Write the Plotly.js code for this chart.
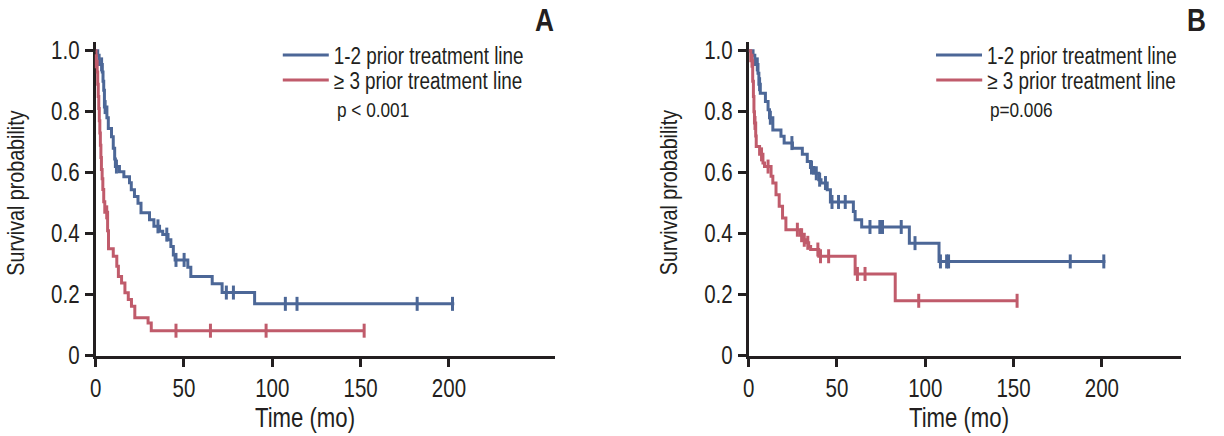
<!DOCTYPE html>
<html><head><meta charset="utf-8">
<script src="https://cdn.plot.ly/plotly-3.0.1.min.js"></script>
<style>
html,body{margin:0;padding:0;background:#fff}
#chart{width:1224px;height:436px}
</style>
</head><body><div id="chart"></div>
<script>
const FONT = '"Liberation Sans", Arial, sans-serif';
const NARROW = 0.82; // horizontal compression to mimic a narrow grotesque
const INK = '#231f20';
const BLUE = '#4c6797';
const RED = '#c05b6b';

const seriesNames = ['1-2 prior treatment line', '\u2265 3 prior treatment line'];
const xTickVals = [0, 50, 100, 150, 200];
const xTickText = ['0', '50', '100', '150', '200'];
const yTickVals = [0, 0.2, 0.4, 0.6, 0.8, 1.0];
const yTickText = ['0', '0.2', '0.4', '0.6', '0.8', '1.0'];
const xTitle = 'Time (mo)';
const yTitle = 'Survival probability';
const pTextA = 'p < 0.001';
const pTextB = 'p=0.006';

// Panel A, 1-2 prior lines
const timeA1 = [0, 1.2, 2.0, 3.8, 4.2, 4.6, 5.0, 6.4, 7.2, 9.0, 10.0, 10.8, 11.2, 13.5, 16.0, 19.2, 20.2, 22.0, 24.0, 25.7, 30.5, 33.0, 36.2, 38.0, 41.0, 42.6, 44.0, 45.0, 52.2, 53.9, 66.0, 71.6, 90.0];
const survA1 = [1.0, 0.985, 0.955, 0.93, 0.90, 0.87, 0.815, 0.78, 0.745, 0.718, 0.68, 0.645, 0.62, 0.603, 0.587, 0.567, 0.544, 0.522, 0.50, 0.469, 0.446, 0.424, 0.408, 0.397, 0.38, 0.358, 0.33, 0.314, 0.29, 0.26, 0.236, 0.207, 0.17];
const censA1 = [3.4, 5.4, 11.8, 35.3, 40.3, 45.5, 50.1, 74, 78, 107.4, 114, 182, 202];
const endA1 = 203;

// Panel A, >=3 prior lines
const timeA2 = [0, 0.2, 0.9, 1.2, 1.5, 1.8, 2.1, 2.4, 2.7, 3.0, 3.3, 3.7, 4.1, 4.6, 5.2, 6.8, 7.3, 10.0, 12.0, 12.9, 14.7, 16.6, 18.5, 20.3, 22.2, 29.7, 31.5];
const survA2 = [1.0, 0.965, 0.93, 0.89, 0.85, 0.81, 0.77, 0.73, 0.69, 0.65, 0.61, 0.58, 0.545, 0.505, 0.47, 0.41, 0.351, 0.326, 0.293, 0.26, 0.238, 0.206, 0.184, 0.162, 0.124, 0.107, 0.082];
const censA2 = [0.4, 6.3, 45.5, 65, 96.5, 152];
const endA2 = 152.5;

// Panel B, 1-2 prior lines
const timeB1 = [0, 2.5, 3.5, 5.3, 5.8, 6.6, 9.5, 11.0, 11.8, 13.7, 18.3, 20.1, 24.8, 30.4, 33.2, 35.0, 36.9, 39.7, 41.0, 44.5, 46.3, 59.3, 60.3, 64.0, 91.0, 107.8];
const survB1 = [1.0, 0.985, 0.955, 0.926, 0.89, 0.86, 0.833, 0.806, 0.78, 0.74, 0.719, 0.697, 0.68, 0.66, 0.637, 0.617, 0.598, 0.577, 0.566, 0.544, 0.504, 0.473, 0.446, 0.422, 0.369, 0.309];
const censB1 = [4.9, 6.2, 12.3, 24.5, 35.6, 38.3, 40.2, 43.5, 47.2, 50.9, 54.7, 68.7, 74.3, 75.8, 86.4, 94.2, 108.6, 112.1, 113.2, 182.1, 201.1];
const endB1 = 202;

// Panel B, >=3 prior lines
const timeB2 = [0, 1.2, 2.3, 2.7, 3.0, 3.3, 4.0, 4.3, 6.2, 8.1, 9.0, 12.7, 13.7, 15.5, 17.3, 19.2, 21.1, 29.1, 30.8, 32.5, 34.0, 35.1, 39.7, 60.3, 83.0];
const survB2 = [1.0, 0.967, 0.90, 0.85, 0.80, 0.763, 0.72, 0.686, 0.66, 0.632, 0.62, 0.588, 0.566, 0.528, 0.49, 0.451, 0.413, 0.395, 0.38, 0.37, 0.358, 0.348, 0.326, 0.268, 0.18];
const censB2 = [1.9, 3.6, 7.3, 11.0, 27.6, 30.0, 31.5, 33.5, 39.2, 40.7, 45.3, 61.6, 65.9, 96.3, 152];
const endB2 = 152.5;

function stepAt(times, surv, t) {
  let s = surv[0];
  for (let i = 0; i < times.length; i++) { if (times[i] <= t) s = surv[i]; }
  return s;
}
function curveTrace(times, surv, end, color, name, xa, ya, legend) {
  return {
    type: 'scatter', mode: 'lines', name: name,
    x: times.concat([end]), y: surv.concat([surv[surv.length - 1]]),
    line: {shape: 'hv', color: color, width: 3},
    xaxis: xa, yaxis: ya, legend: legend, hoverinfo: 'skip'
  };
}
function censTrace(times, surv, cens, color, xa, ya) {
  return {
    type: 'scatter', mode: 'markers', showlegend: false,
    x: cens, y: cens.map(t => stepAt(times, surv, t)),
    marker: {symbol: 'line-ns', size: 10, color: color, line: {color: color, width: 3}},
    cliponaxis: false, xaxis: xa, yaxis: ya, hoverinfo: 'skip'
  };
}

const traces = [
  curveTrace(timeA1, survA1, endA1, BLUE, seriesNames[0], 'x', 'y', 'legend'),
  curveTrace(timeA2, survA2, endA2, RED, seriesNames[1], 'x', 'y', 'legend2'),
  curveTrace(timeB1, survB1, endB1, BLUE, seriesNames[0], 'x2', 'y2', 'legend3'),
  curveTrace(timeB2, survB2, endB2, RED, seriesNames[1], 'x2', 'y2', 'legend4'),
  censTrace(timeA1, survA1, censA1, BLUE, 'x', 'y'),
  censTrace(timeA2, survA2, censA2, RED, 'x', 'y'),
  censTrace(timeB1, survB1, censB1, BLUE, 'x2', 'y2'),
  censTrace(timeB2, survB2, censB2, RED, 'x2', 'y2')
];

const W = 1224, H = 436;
const px = v => v / W;
const py = v => 1 - v / H;

function xAxis(domain, range, anchor) {
  return {
    domain: domain, range: range, anchor: anchor,
    tickmode: 'array', tickvals: xTickVals, ticktext: xTickText,
    ticks: 'outside', ticklen: 8, tickwidth: 3, tickcolor: INK,
    showline: true, linewidth: 3, linecolor: INK, layer: 'below traces',
    showgrid: false, zeroline: false, fixedrange: true,
    tickfont: {family: FONT, size: 25, color: INK}
  };
}
function yAxis(anchor) {
  return {
    domain: [py(355.7), py(41.5)], range: [0, 1.03], anchor: anchor,
    tickmode: 'array', tickvals: yTickVals, ticktext: yTickText,
    ticks: 'outside', ticklen: 8, tickwidth: 3, tickcolor: INK,
    showline: true, linewidth: 3, linecolor: INK, layer: 'below traces',
    showgrid: false, zeroline: false, fixedrange: true,
    tickfont: {family: FONT, size: 25, color: INK}
  };
}
function legendAt(x, y) {
  return {
    x: px(x), y: py(y), xanchor: 'left', yanchor: 'middle',
    bgcolor: 'rgba(0,0,0,0)', borderwidth: 0, itemwidth: 46,
    font: {family: FONT, size: 23, color: INK}, itemclick: false, itemdoubleclick: false
  };
}
function ann(text, x, y, opts) {
  return Object.assign({
    text: text, x: px(x), y: py(y), xref: 'paper', yref: 'paper',
    showarrow: false, xanchor: 'center', yanchor: 'middle',
    font: {family: FONT, size: 24, color: INK}
  }, opts || {});
}

const layout = {
  width: W, height: H,
  margin: {l: 0, r: 0, t: 0, b: 0},
  paper_bgcolor: '#ffffff', plot_bgcolor: 'rgba(0,0,0,0)',
  font: {family: FONT, color: INK, size: 24},
  showlegend: true,
  xaxis: xAxis([px(96.7), px(561.4)], [0, 260], 'y'),
  yaxis: yAxis('x'),
  xaxis2: xAxis([px(757.3), px(1195)], [0, 245], 'y2'),
  yaxis2: yAxis('x2'),
  legend: legendAt(281, 55),
  legend2: legendAt(281, 80),
  legend3: legendAt(942, 55),
  legend4: legendAt(942, 80),
  annotations: [
    ann(yTitle, 16, 193, {textangle: -90}),
    ann(yTitle, 677, 193, {textangle: -90}),
    ann(xTitle, 309, 418, {font: {family: FONT, size: 27, color: INK}}),
    ann(xTitle, 970, 418, {font: {family: FONT, size: 27, color: INK}}),
    ann(pTextA, 331, 110, {xanchor: 'left', font: {family: FONT, size: 21, color: INK}}),
    ann(pTextB, 992, 110, {xanchor: 'left', font: {family: FONT, size: 21, color: INK}}),
    ann('<b>A</b>', 551, 20, {font: {family: FONT, size: 32, color: INK}}),
    ann('<b>B</b>', 1210, 20, {font: {family: FONT, size: 32, color: INK}})
  ]
};

Plotly.newPlot('chart', traces, layout, {displayModeBar: false, staticPlot: true}).then(function (gd) {
  gd.querySelectorAll('svg text').forEach(function (t) {
    if (!t.textContent.trim()) return;
    const w = t.getComputedTextLength();
    if (w > 0) {
      t.setAttribute('textLength', (w * NARROW).toFixed(2));
      t.setAttribute('lengthAdjust', 'spacingAndGlyphs');
    }
  });
});
</script>
</body></html>
